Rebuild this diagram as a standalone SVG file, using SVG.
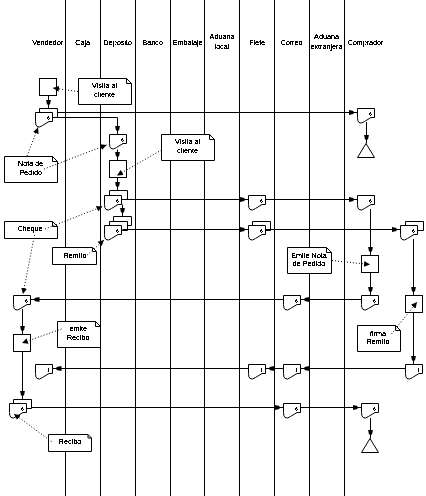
<svg xmlns="http://www.w3.org/2000/svg" xmlns:xlink="http://www.w3.org/1999/xlink" width="426" height="496" viewBox="0 0 426 496">
<style>
text{font-family:"Liberation Sans",Arial,sans-serif;font-size:7.2px;fill:#000;text-anchor:middle;filter:url(#bw)}
.n{font-size:5px}
.s{fill:#fff;stroke:#000;stroke-width:1}
.l{fill:none;stroke:#000;stroke-width:1}
.c{marker-end:url(#head)}
.d{stroke-dasharray:1 2;marker-end:url(#tip)}
</style>
<defs>
<filter id="bw" color-interpolation-filters="sRGB"><feComponentTransfer><feFuncA type="discrete" tableValues="0 1 1"/></feComponentTransfer></filter>
<marker id="head" markerUnits="userSpaceOnUse" markerWidth="9" markerHeight="7" viewBox="0 -3.5 9 7" refX="9" refY="0" orient="auto"><path d="M0,-2.500L5,-1.500V1.500L0,2.500Z"/></marker>
<marker id="tip" markerUnits="userSpaceOnUse" markerWidth="7" markerHeight="7" viewBox="0 -3.5 7 7" refX="6" refY="0" orient="auto"><path d="M0,-3L6,0L0,3Z"/></marker>
<path id="doc" d="M0,0H17V9H13.500L7,13Q4,15.500 1.500,14Q0,13 0,9Z"/>
<path id="page" d="M0,0H18V9H0Z"/>
<rect id="box" width="17" height="17"/>
<path id="end" d="M0,14L8.500,0L17,14Z"/>
</defs>
<g id="lanes" class="l">
<path d="M65.500,0V496M100.500,0V496M135.500,0V496M170.500,0V496M204.500,0V496M239.500,0V496M274.500,0V496M309.500,0V496M344.500,0V496"/>
</g>
<g id="headers">
<text x="47.700" y="45">Vendedor</text>
<text x="82.700" y="45">Caja</text>
<text x="117.700" y="45">Depósito</text>
<text x="152.700" y="45">Banco</text>
<text x="187.700" y="45">Embalaje</text>
<text x="222" y="39">Aduana</text><text x="222" y="49">local</text>
<text x="257.300" y="45">Flete</text>
<text x="291.500" y="45">Correo</text>
<text x="326.500" y="39">Aduana</text><text x="326.500" y="49">extranjera</text>
<text x="365.500" y="45">Comprador</text>
</g>

<g id="p1" transform="translate(39.500,78.500)"><use href="#box" class="s"/></g>
<g id="d1" transform="translate(35.500,112.500)"><use href="#page" class="s" x="4" y="-4"/><use href="#doc" class="s"/><text class="n" x="13" y="7">6</text></g>
<g id="d2" transform="translate(109.500,134.500)"><use href="#doc" class="s"/><text class="n" x="13" y="7">6</text></g>
<g id="d3" transform="translate(357.500,108.500)"><use href="#doc" class="s"/><text class="n" x="13" y="7">6</text></g>
<g id="e1" transform="translate(357.500,143.500)"><use href="#end" class="s"/></g>
<g id="p2" transform="translate(109.500,160.500)"><use href="#box" class="s"/></g>
<g id="d4" transform="translate(104.500,195.500)"><use href="#page" class="s" x="5" y="-5"/><use href="#doc" class="s"/><text class="n" x="13" y="7">6</text></g>
<g id="d5" transform="translate(104.500,225.500)"><use href="#page" class="s" x="9" y="-9"/><use href="#page" class="s" x="5" y="-4"/><use href="#doc" class="s"/><text class="n" x="13" y="7">6</text></g>
<g id="d6" transform="translate(248.500,195.500)"><use href="#doc" class="s"/><text class="n" x="13" y="7">6</text></g>
<g id="d7" transform="translate(357.500,195.500)"><use href="#doc" class="s"/><text class="n" x="13" y="7">6</text></g>
<g id="d8" transform="translate(248.500,225.500)"><use href="#page" class="s" x="4" y="-4"/><use href="#doc" class="s"/><text class="n" x="13" y="7">6</text></g>
<g id="d9" transform="translate(400.500,225.500)"><use href="#page" class="s" x="5" y="-4"/><use href="#doc" class="s"/><text class="n" x="13" y="7">6</text></g>
<g id="p3" transform="translate(361.500,255.500)"><use href="#box" class="s"/></g>
<g id="d10" transform="translate(283.500,295.500)"><use href="#doc" class="s"/><text class="n" x="13" y="7">6</text></g>
<g id="d11" transform="translate(361.500,295.500)"><use href="#doc" class="s"/><text class="n" x="13" y="7">6</text></g>
<g id="p4" transform="translate(405.500,295.500)"><use href="#box" class="s"/></g>
<g id="d12" transform="translate(13.500,295.500)"><use href="#doc" class="s"/><text class="n" x="13" y="7">6</text></g>
<g id="p5" transform="translate(13.500,334.500)"><use href="#box" class="s"/></g>
<g id="d13" transform="translate(35.500,364.500)"><use href="#doc" class="s"/><text class="n" x="13" y="7">1</text></g>
<g id="d14" transform="translate(248.500,364.500)"><use href="#doc" class="s"/><text class="n" x="13" y="7">1</text></g>
<g id="d15" transform="translate(283.500,364.500)"><use href="#doc" class="s"/><text class="n" x="13" y="7">1</text></g>
<g id="d16" transform="translate(405.500,364.500)"><use href="#doc" class="s"/><text class="n" x="13" y="7">1</text></g>
<g id="d17" transform="translate(9.500,403.500)"><use href="#page" class="s" x="4" y="-4"/><use href="#doc" class="s"/><text class="n" x="13" y="7">6</text></g>
<g id="d18" transform="translate(283.500,403.500)"><use href="#doc" class="s"/><text class="n" x="13" y="7">6</text></g>
<g id="d19" transform="translate(361.500,403.500)"><use href="#doc" class="s"/><text class="n" x="13" y="7">6</text></g>
<g id="e2" transform="translate(361.500,438.500)"><use href="#end" class="s"/></g>

<g id="n1"><path class="s" d="M78.500,78.500H126.500L131.500,83.500V104.500H78.500Z"/><path class="l" d="M126.500,78.500V83.500H131.500"/><text x="104.500" y="88">Visita al</text><text x="104.500" y="97">cliente</text></g>
<g id="n2"><path class="s" d="M4.500,156.500H52.500L57.500,161.500V182.500H4.500Z"/><path class="l" d="M52.500,156.500V161.500H57.500"/><text x="30.700" y="165.700">Nota de</text><text x="30.700" y="174.700">Pedido</text></g>
<g id="n3"><path class="s" d="M161.500,134.500H209.500L214.500,139.500V160.500H161.500Z"/><path class="l" d="M209.500,134.500V139.500H214.500"/><text x="187.500" y="144">Visita al</text><text x="187.500" y="152.700">cliente</text></g>
<g id="n4"><path class="s" d="M4.500,221.500H52.500L57.500,226.500V238.500H4.500Z"/><path class="l" d="M52.500,221.500V226.500H57.500"/><text x="30" y="230.700">Cheque</text></g>
<g id="n5"><path class="s" d="M52.500,247.500H92.500L96.500,251.500V264.500H52.500Z"/><path class="l" d="M92.500,247.500V251.500H96.500"/><text x="75" y="257.700">Remito</text></g>
<g id="n6"><path class="s" d="M57.500,321.500H95.500L100.500,326.500V347.500H57.500Z"/><path class="l" d="M95.500,321.500V326.500H100.500"/><text x="78.300" y="330.700">emite</text><text x="78.300" y="339.700">Recibo</text></g>
<g id="n7"><path class="s" d="M48.500,434.500H88L91.500,438V451.500H48.500Z"/><path class="l" d="M88,434.500V438H91.500"/><text x="70" y="444">Recibo</text></g>
<g id="n8"><path class="s" d="M287.500,247.500H326.500L331.500,252.500V273.500H287.500Z"/><path class="l" d="M326.500,247.500V252.500H331.500"/><text x="309" y="257.700">Emite Nota</text><text x="309" y="266">de Pedido</text></g>
<g id="n9"><path class="s" d="M357.500,325.500H395.500L400.500,330.500V351.500H357.500Z"/><path class="l" d="M395.500,325.500V330.500H400.500"/><text x="378" y="336">firma</text><text x="378" y="344">Remito</text></g>

<g id="connectors" class="l">
<path class="c" d="M48.500,95.500V108.500"/>
<path class="c" d="M57.500,112.500H357.500"/>
<path class="c" d="M57.500,117.500H117.500V134.500"/>
<path class="c" d="M117.500,149.500V160.500"/>
<path class="c" d="M117.500,177.500V190.500"/>
<path class="c" d="M366.500,122V143.500"/>
<path class="c" d="M122.500,199.500H248.500"/>
<path class="c" d="M265.500,199.500H357.500"/>
<path class="c" d="M122.500,204.500V216.500"/>
<path class="c" d="M122.500,229.500H248.500"/>
<path class="c" d="M265.500,229.500H400.500"/>
<path class="c" d="M370.500,209V255.500"/>
<path class="c" d="M370.500,272.500V295.500"/>
<path class="c" d="M413.500,239V295.500"/>
<path class="c" d="M413.500,312.500V364.500"/>
<path class="c" d="M361.500,299.500H300.500"/>
<path class="c" d="M283.500,299.500H30.500"/>
<path class="c" d="M405.500,368.500H300.500"/>
<path class="c" d="M283.500,368.500H265.500"/>
<path class="c" d="M248.500,368.500H52.500"/>
<path class="c" d="M22.500,309V334.500"/>
<path class="c" d="M22.500,351.500V399.500"/>
<path class="c" d="M31.500,407.500H283.500"/>
<path class="c" d="M300.500,407.500H361.500"/>
<path class="c" d="M370.500,418V438.500"/>
<path class="d" d="M78,91.500L53,88"/>
<path class="d" d="M27,156L38,127.500"/>
<path class="d" d="M44,169L106.500,145"/>
<path class="d" d="M161.500,150L117,175.500"/>
<path class="d" d="M45,229L102.500,206.500"/>
<path class="d" d="M34.500,235L23,294"/>
<path class="d" d="M85,257L104,240"/>
<path class="d" d="M61.500,329L22,343"/>
<path class="d" d="M51.500,441.500L14,414"/>
<path class="d" d="M332,260.500L370,264.500"/>
<path class="d" d="M391.500,334L417,302"/>
</g>
</svg>
